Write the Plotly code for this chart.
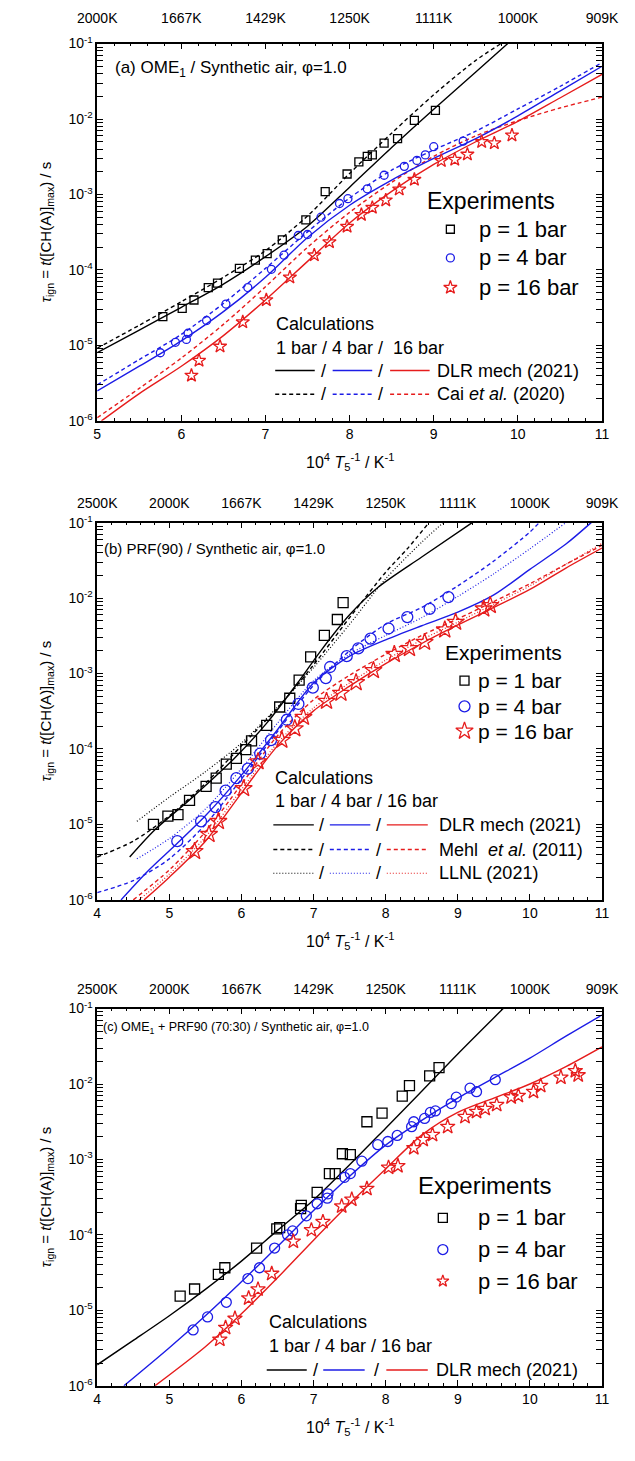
import plotly.graph_objects as go

W, H = 635, 1461
FONT = "Liberation Sans, Arial, sans-serif"
BLK, BLU, RED = "#000000", "#1c1ce6", "#e61c1c"
DASH, DOT = "4px,3px", "1px,2px"

# ---------------- Panel (a): OME1 ----------------
A_EXP1_X = [9.02, 8.77, 8.57, 8.41, 8.27, 8.21, 8.11, 7.97, 7.71, 7.48, 7.20, 7.02, 6.88, 6.69, 6.43, 6.32, 6.15, 6.01, 5.78]
A_EXP1_Y = [1.30e-2, 9.6e-3, 5.5e-3, 4.8e-3, 3.35e-3, 3.2e-3, 2.7e-3, 1.87e-3, 1.09e-3, 4.6e-4, 2.5e-4, 1.65e-4, 1.35e-4, 1.05e-4, 6.7e-5, 5.85e-5, 4.0e-5, 3.1e-5, 2.4e-5]
A_EXP4_X = [9.35, 9.00, 8.90, 8.80, 8.65, 8.41, 8.21, 7.98, 7.88, 7.66, 7.50, 7.39, 7.22, 7.07, 6.79, 6.53, 6.30, 6.08, 6.06, 5.93, 5.75]
A_EXP4_Y = [5.1e-3, 4.3e-3, 3.35e-3, 2.83e-3, 2.36e-3, 1.8e-3, 1.19e-3, 8.8e-4, 7.6e-4, 5.0e-4, 2.95e-4, 2.86e-4, 1.57e-4, 1.02e-4, 5.85e-5, 3.53e-5, 2.14e-5, 1.45e-5, 1.2e-5, 1.1e-5, 8e-6]
A_EXP16_X = [9.93, 9.72, 9.57, 9.40, 9.25, 9.09, 8.77, 8.59, 8.43, 8.27, 8.14, 7.97, 7.76, 7.58, 7.29, 7.01, 6.73, 6.46, 6.21, 6.12]
A_EXP16_Y = [6.1e-3, 4.8e-3, 5.0e-3, 3.4e-3, 2.9e-3, 2.8e-3, 1.58e-3, 1.17e-3, 8.4e-4, 6.7e-4, 5.4e-4, 3.76e-4, 2.34e-4, 1.57e-4, 8.0e-5, 4.0e-5, 2.04e-5, 9.7e-6, 6.3e-6, 4.0e-6]

A_DLR1_X = [5, 5.5, 6, 6.5, 7, 7.5, 8, 8.5, 9, 9.5, 9.88]
A_DLR1_Y = [8e-6, 1.6e-5, 3.2e-5, 6.5e-5, 1.5e-4, 3.8e-4, 1.25e-3, 4.2e-3, 1.35e-2, 4.2e-2, 1e-1]
A_CAI1_X = [5, 5.5, 6, 6.5, 7, 7.5, 8, 8.5, 9, 9.5, 9.80]
A_CAI1_Y = [9.2e-6, 1.85e-5, 3.8e-5, 8e-5, 1.8e-4, 5.2e-4, 1.9e-3, 6.5e-3, 2.1e-2, 6e-2, 1e-1]
A_DLR4_X = [5, 5.5, 6, 6.5, 7, 7.5, 8, 8.5, 9, 9.5, 10, 10.5, 11]
A_DLR4_Y = [2.5e-6, 5.3e-6, 1.15e-5, 2.8e-5, 8e-5, 2.7e-4, 7.2e-4, 1.55e-3, 3e-3, 5.5e-3, 1.1e-2, 2.35e-2, 5e-2]
A_CAI4_X = [5, 5.5, 6, 6.5, 7, 7.5, 8, 8.5, 9, 9.5, 10, 10.5, 11]
A_CAI4_Y = [3e-6, 6.5e-6, 1.4e-5, 3.6e-5, 1.05e-4, 3.2e-4, 9e-4, 2.1e-3, 3.9e-3, 6.9e-3, 1.36e-2, 2.7e-2, 5.6e-2]
A_DLR16_X = [5.05, 5.5, 6, 6.5, 7, 7.5, 8, 8.5, 9, 9.5, 10, 10.5, 11]
A_DLR16_Y = [1e-6, 2.3e-6, 5.3e-6, 1.35e-5, 4e-5, 1.3e-4, 4.2e-4, 1.1e-3, 2.5e-3, 5e-3, 9.3e-3, 1.9e-2, 3.9e-2]
A_CAI16_X = [5, 5.5, 6, 6.5, 7, 7.5, 8, 8.5, 9, 9.5, 10, 10.5, 11]
A_CAI16_Y = [1.1e-6, 2.7e-6, 6.8e-6, 1.9e-5, 6e-5, 2.0e-4, 5.8e-4, 1.45e-3, 3.2e-3, 6e-3, 9.5e-3, 1.4e-2, 1.95e-2]

# ---------------- Panel (b): PRF(90) ----------------
B_EXP1_X = [7.41, 7.33, 7.15, 6.96, 6.80, 6.67, 6.53, 6.35, 6.14, 6.06, 5.93, 5.79, 5.65, 5.51, 5.28, 5.12, 4.98, 4.78]
B_EXP1_Y = [8.7e-3, 5.2e-3, 3.2e-3, 1.66e-3, 8.2e-4, 4.7e-4, 3.6e-4, 2.06e-4, 1.28e-4, 9.8e-5, 7.5e-5, 6.3e-5, 4.1e-5, 3.2e-5, 2.09e-5, 1.35e-5, 1.29e-5, 1.0e-5]
B_EXP4_X = [8.87, 8.61, 8.30, 8.04, 7.79, 7.62, 7.46, 7.23, 7.17, 6.99, 6.79, 6.63, 6.41, 6.26, 6.09, 5.93, 5.78, 5.64, 5.44, 5.11]
B_EXP4_Y = [1.03e-2, 7.2e-3, 5.6e-3, 3.95e-3, 2.9e-3, 2.15e-3, 1.7e-3, 1.22e-3, 8.7e-4, 6.5e-4, 3.95e-4, 2.44e-4, 1.31e-4, 8.7e-5, 5.5e-5, 4.1e-5, 2.8e-5, 1.7e-5, 1.1e-5, 6.0e-6]
B_EXP16_X = [9.45, 9.36, 8.97, 8.82, 8.54, 8.33, 8.12, 7.83, 7.59, 7.38, 7.18, 6.86, 6.74, 6.56, 6.23, 6.03, 5.68, 5.55, 5.35]
B_EXP16_Y = [8.0e-3, 7.2e-3, 4.8e-3, 3.8e-3, 2.6e-3, 2.15e-3, 1.8e-3, 1.1e-3, 7.6e-4, 5.5e-4, 4.3e-4, 2.64e-4, 1.86e-4, 1.31e-4, 6.8e-5, 3.0e-5, 1.1e-5, 7.4e-6, 4.4e-6]

B_DLR1_X = [4.45, 4.8, 5.3, 5.9, 6.35, 6.8, 7.1, 7.5, 7.9, 8.5, 9.2]
B_DLR1_Y = [3.7e-6, 8.5e-6, 2.2e-5, 7.5e-5, 2.2e-4, 8e-4, 2e-3, 6e-3, 1.4e-2, 3.5e-2, 1e-1]
B_MEHL1_X = [4, 4.5, 5, 5.5, 6, 6.5, 7, 7.5, 8, 8.3, 8.6]
B_MEHL1_Y = [3.7e-6, 6e-6, 1.3e-5, 3.5e-5, 1.1e-4, 3.5e-4, 1.3e-3, 5.5e-3, 2.2e-2, 4.5e-2, 1e-1]
B_LLNL1_X = [4.55, 5, 5.5, 6, 6.5, 7, 7.5, 8, 8.5, 8.8]
B_LLNL1_Y = [1.1e-5, 2.3e-5, 5e-5, 1.2e-4, 3.6e-4, 1.2e-3, 4.5e-3, 1.8e-2, 5.5e-2, 1e-1]
B_DLR4_X = [4.33, 4.7, 5.1, 5.5, 6, 6.5, 7, 7.5, 8, 8.5, 9, 9.5, 10, 10.5, 10.85]
B_DLR4_Y = [1e-6, 2.4e-6, 5.5e-6, 1.3e-5, 4.5e-5, 1.8e-4, 7.5e-4, 1.7e-3, 2.8e-3, 4.3e-3, 6.5e-3, 1.1e-2, 2.4e-2, 5.2e-2, 1e-1]
B_MEHL4_X = [4, 4.5, 5, 5.5, 6, 6.5, 7, 7.5, 8, 8.5, 9, 9.5, 10, 10.13]
B_MEHL4_Y = [1.25e-6, 1.8e-6, 3.5e-6, 1.0e-5, 4e-5, 1.7e-4, 7e-4, 2e-3, 4.5e-3, 7.5e-3, 1.45e-2, 3.1e-2, 7.5e-2, 1e-1]
B_LLNL4_X = [4.55, 5, 5.5, 6, 6.5, 7, 7.5, 8, 8.5, 9, 9.5, 10, 10.5]
B_LLNL4_Y = [3.5e-6, 6.5e-6, 1.6e-5, 5.5e-5, 2.2e-4, 8e-4, 1.8e-3, 3.2e-3, 5.5e-3, 1.05e-2, 2.1e-2, 4.5e-2, 1e-1]
B_DLR16_X = [4.65, 5, 5.5, 6, 6.5, 7, 7.5, 8, 8.5, 9, 9.5, 10, 10.5, 11]
B_DLR16_Y = [1e-6, 2.0e-6, 6e-6, 2.6e-5, 1.1e-4, 3.2e-4, 6.8e-4, 1.35e-3, 2.5e-3, 4.4e-3, 7.5e-3, 1.3e-2, 2.5e-2, 4.6e-2]
B_MEHL16_X = [4.5, 5, 5.5, 6, 6.5, 7, 7.5, 8, 8.5, 9, 9.5, 10, 10.5, 11]
B_MEHL16_Y = [1e-6, 2.5e-6, 8e-6, 3.4e-5, 1.5e-4, 4.5e-4, 9.5e-4, 1.8e-3, 3.2e-3, 5.3e-3, 9e-3, 1.55e-2, 2.8e-2, 5e-2]
B_LLNL16_X = [4.58, 5, 5.5, 6, 6.5, 7, 7.5, 8, 8.5, 9, 9.5, 10, 10.5, 11]
B_LLNL16_Y = [1e-6, 2.2e-6, 6.8e-6, 2.9e-5, 1.2e-4, 3.5e-4, 7.5e-4, 1.5e-3, 2.8e-3, 4.8e-3, 8.3e-3, 1.45e-2, 2.8e-2, 5.3e-2]

# ---------------- Panel (c): OME1 + PRF90 (70:30) ----------------
C_EXP1_X = [8.74, 8.61, 8.33, 8.23, 7.95, 7.74, 7.51, 7.40, 7.30, 7.22, 7.05, 6.83, 6.82, 6.53, 6.49, 6.21, 5.77, 5.68, 5.35, 5.15]
C_EXP1_Y = [1.65e-2, 1.28e-2, 9.5e-3, 6.9e-3, 4.1e-3, 3.16e-3, 1.16e-3, 1.19e-3, 6.5e-4, 6.5e-4, 3.67e-4, 2.46e-4, 2.23e-4, 1.25e-4, 1.2e-4, 6.7e-5, 3.67e-5, 3.0e-5, 1.92e-5, 1.54e-5]
C_EXP4_X = [9.52, 9.26, 9.17, 8.98, 8.91, 8.69, 8.62, 8.54, 8.39, 8.36, 8.16, 8.03, 7.89, 7.67, 7.51, 7.43, 7.20, 7.19, 7.05, 6.90, 6.71, 6.64, 6.46, 6.25, 6.09, 5.79, 5.53, 5.33]
C_EXP4_Y = [1.14e-2, 7.9e-3, 8.8e-3, 6.7e-3, 5.5e-3, 4.4e-3, 4.2e-3, 3.5e-3, 3.16e-3, 2.72e-3, 2.08e-3, 1.73e-3, 1.57e-3, 9.5e-4, 6.5e-4, 5.8e-4, 3.5e-4, 3.07e-4, 2.59e-4, 1.79e-4, 1.13e-4, 1.0e-4, 6.7e-5, 3.67e-5, 2.64e-5, 1.28e-5, 8.2e-6, 5.5e-6]
C_EXP16_X = [10.63, 10.67, 10.43, 10.15, 10.05, 9.84, 9.74, 9.54, 9.38, 9.26, 9.10, 8.86, 8.65, 8.52, 8.39, 8.17, 8.04, 7.74, 7.53, 7.39, 7.13, 6.97, 6.72, 6.42, 6.23, 6.10, 5.91, 5.78, 5.70]
C_EXP16_Y = [1.49e-2, 1.31e-2, 1.22e-2, 9.5e-3, 7.9e-3, 7.0e-3, 6.7e-3, 5.3e-3, 4.7e-3, 4.3e-3, 3.67e-3, 2.72e-3, 2.12e-3, 1.82e-3, 1.42e-3, 8.2e-4, 7.8e-4, 4.1e-4, 2.95e-4, 2.4e-4, 1.49e-4, 1.16e-4, 8.2e-5, 3.07e-5, 1.9e-5, 1.45e-5, 7.8e-6, 5.9e-6, 4.1e-6]

C_DLR1_X = [4, 4.5, 5, 5.5, 6, 6.5, 7, 7.5, 8, 8.5, 9, 9.63]
C_DLR1_Y = [1.9e-6, 4e-6, 8.5e-6, 1.9e-5, 4.5e-5, 1.15e-4, 2.9e-4, 8.5e-4, 2.6e-3, 8e-3, 2.5e-2, 1e-1]
C_DLR4_X = [4.37, 5, 5.5, 6, 6.5, 7, 7.5, 8, 8.5, 9, 9.5, 10, 10.5, 11]
C_DLR4_Y = [1e-6, 3.2e-6, 8.5e-6, 2.4e-5, 7e-5, 2.1e-4, 6e-4, 1.55e-3, 3.3e-3, 6.5e-3, 1.2e-2, 2.2e-2, 4.3e-2, 8.2e-2]
C_DLR16_X = [4.8, 5.5, 6, 6.5, 7, 7.5, 8, 8.5, 9, 9.5, 10, 10.5, 11]
C_DLR16_Y = [1e-6, 3.3e-6, 9e-6, 2.7e-5, 8.5e-5, 2.6e-4, 7.5e-4, 2.1e-3, 4.2e-3, 6.5e-3, 1.0e-2, 1.7e-2, 3.1e-2]

# ---------------- Axis ticks / labels ----------------
X_TICKS_A = [5, 6, 7, 8, 9, 10, 11]
X_TICKS_BC = [4, 5, 6, 7, 8, 9, 10, 11]
TOP_LABELS_A = ["2000K", "1667K", "1429K", "1250K", "1111K", "1000K", "909K"]
TOP_LABELS_BC = ["2500K", "2000K", "1667K", "1429K", "1250K", "1111K", "1000K", "909K"]
Y_TICKS = [1e-6, 1e-5, 1e-4, 1e-3, 1e-2, 1e-1]
Y_LABELS = ["10<sup>-6</sup>", "10<sup>-5</sup>", "10<sup>-4</sup>", "10<sup>-3</sup>", "10<sup>-2</sup>", "10<sup>-1</sup>"]

Y_TITLE = "<i>τ</i><sub>ign</sub> = <i>t</i>([CH(A)]<sub>max</sub>) / s"
X_TITLE = "10<sup>4</sup> <i>T</i><sub>5</sub><sup>-1</sup> / K<sup>-1</sup>"

# ---------------- Layout geometry (pixels) ----------------
PLOT_L, PLOT_R = 82, 618
PANELS = [(34, 416), (519, 901), (1011, 1393)]


def xp(px):
    return px / W


def yp(py):
    return 1 - py / H


fig = go.Figure()


def line(x, y, color, dash, xa, ya, width=1.4):
    fig.add_trace(go.Scatter(x=x, y=y, mode="lines", xaxis=xa, yaxis=ya,
                             line=dict(color=color, width=width, dash=dash, shape="spline", smoothing=0.8),
                             showlegend=False, hoverinfo="skip"))


def pts(x, y, color, symbol, size, xa, ya):
    fig.add_trace(go.Scatter(x=x, y=y, mode="markers", xaxis=xa, yaxis=ya,
                             marker=dict(symbol=symbol, size=size, color=color,
                                         line=dict(color=color, width=1.3)),
                             showlegend=False, hoverinfo="skip"))


# panel a
line(A_CAI1_X, A_CAI1_Y, BLK, DASH, "x", "y")
line(A_CAI4_X, A_CAI4_Y, BLU, DASH, "x", "y")
line(A_CAI16_X, A_CAI16_Y, RED, DASH, "x", "y")
line(A_DLR1_X, A_DLR1_Y, BLK, "solid", "x", "y")
line(A_DLR4_X, A_DLR4_Y, BLU, "solid", "x", "y")
line(A_DLR16_X, A_DLR16_Y, RED, "solid", "x", "y")
pts(A_EXP1_X, A_EXP1_Y, BLK, "square-open", 8, "x", "y")
pts(A_EXP4_X, A_EXP4_Y, BLU, "circle-open", 8, "x", "y")
pts(A_EXP16_X, A_EXP16_Y, RED, "star-open", 10, "x", "y")

# panel b
line(B_MEHL1_X, B_MEHL1_Y, BLK, DASH, "x2", "y2")
line(B_MEHL4_X, B_MEHL4_Y, BLU, DASH, "x2", "y2")
line(B_MEHL16_X, B_MEHL16_Y, RED, DASH, "x2", "y2")
line(B_LLNL1_X, B_LLNL1_Y, BLK, DOT, "x2", "y2", 1.2)
line(B_LLNL4_X, B_LLNL4_Y, BLU, DOT, "x2", "y2", 1.2)
line(B_LLNL16_X, B_LLNL16_Y, RED, DOT, "x2", "y2", 1.2)
line(B_DLR1_X, B_DLR1_Y, BLK, "solid", "x2", "y2")
line(B_DLR4_X, B_DLR4_Y, BLU, "solid", "x2", "y2")
line(B_DLR16_X, B_DLR16_Y, RED, "solid", "x2", "y2")
pts(B_EXP1_X, B_EXP1_Y, BLK, "square-open", 10, "x2", "y2")
pts(B_EXP4_X, B_EXP4_Y, BLU, "circle-open", 11, "x2", "y2")
pts(B_EXP16_X, B_EXP16_Y, RED, "star-open", 13, "x2", "y2")

# panel c
line(C_DLR1_X, C_DLR1_Y, BLK, "solid", "x3", "y3")
line(C_DLR4_X, C_DLR4_Y, BLU, "solid", "x3", "y3")
line(C_DLR16_X, C_DLR16_Y, RED, "solid", "x3", "y3")
pts(C_EXP1_X, C_EXP1_Y, BLK, "square-open", 10, "x3", "y3")
pts(C_EXP4_X, C_EXP4_Y, BLU, "circle-open", 10, "x3", "y3")
pts(C_EXP16_X, C_EXP16_Y, RED, "star-open", 11, "x3", "y3")

# empty traces so that top axes are drawn
for xa, ya in (("x4", "y"), ("x5", "y2"), ("x6", "y3")):
    fig.add_trace(go.Scatter(x=[None], y=[None], xaxis=xa, yaxis=ya, showlegend=False, hoverinfo="skip"))

# ---------------- legends (drawn on a full-page pixel overlay) ----------------
annotations = []


def txt(text, x, y, size, xanchor="left", angle=0):
    annotations.append(dict(text=text, x=xp(x), y=yp(y), xref="paper", yref="paper",
                            xanchor=xanchor, yanchor="middle", showarrow=False, textangle=angle,
                            font=dict(family=FONT, size=size, color="black")))


def leg_marker(x, y, color, symbol, size):
    fig.add_trace(go.Scatter(x=[x], y=[y], mode="markers", xaxis="x7", yaxis="y7",
                             marker=dict(symbol=symbol, size=size, color=color,
                                         line=dict(color=color, width=1.3)),
                             showlegend=False, hoverinfo="skip"))


def leg_line(x0, x1, y, color, dash, width=1.4):
    fig.add_trace(go.Scatter(x=[x0, x1], y=[y, y], mode="lines", xaxis="x7", yaxis="y7",
                             line=dict(color=color, width=width, dash=dash),
                             showlegend=False, hoverinfo="skip"))


def calc_row(y, dash, label, xs, size, width=1.4):
    (b0, b1, s1, u0, u1, s2, r0, r1, tx) = xs
    leg_line(b0, b1, y, BLK, dash, width)
    leg_line(u0, u1, y, BLU, dash, width)
    leg_line(r0, r1, y, RED, dash, width)
    txt("/", s1, y, size, "center")
    txt("/", s2, y, size, "center")
    txt(label, tx, y, size)


# panel titles
txt("(a) OME<sub>1</sub> / Synthetic air, φ=1.0", 99, 60, 17)
txt("(b) PRF(90) / Synthetic air, φ=1.0", 87, 545, 15)
txt("(c) OME<sub>1</sub> + PRF90 (70:30) / Synthetic air, φ=1.0", 86, 1031, 12.5)

# axis titles
for (top, bot) in PANELS:
    txt(Y_TITLE, 28, (top + bot) / 2, 15, "center", -90)
    txt(X_TITLE, (PLOT_L + PLOT_R) / 2, bot + 42, 16, "center")

# legend (a)
txt("Experiments", 430, 193, 23)
leg_marker(457, 222, BLK, "square-open", 8)
leg_marker(457, 251, BLU, "circle-open", 8)
leg_marker(457, 281, RED, "star-open", 10)
txt("p = 1 bar", 485, 222, 22)
txt("p = 4 bar", 485, 251, 22)
txt("p = 16 bar", 485, 281, 22)
txt("Calculations", 270, 318, 18)
txt("1 bar / 4 bar /  16 bar", 270, 342, 18)
XS_A = (271, 313, 322.5, 332, 374, 382.5, 393, 435, 441)
calc_row(365, "solid", "DLR mech (2021)", XS_A, 18)
calc_row(389, DASH, "Cai <i>et al.</i> (2020)", XS_A, 18)

# legend (b)
txt("Experiments", 449, 651, 21)
leg_marker(472, 679, BLK, "square-open", 9)
leg_marker(472, 705, BLU, "circle-open", 11)
leg_marker(472, 730, RED, "star-open", 13)
txt("p = 1 bar", 484, 679, 21)
txt("p = 4 bar", 484, 705, 21)
txt("p = 16 bar", 484, 730, 21)
txt("Calculations", 269, 778, 18)
txt("1 bar / 4 bar / 16 bar", 269, 801, 18)
XS_B = (269, 312, 320, 329, 372, 380.5, 389.5, 433, 443)
calc_row(825, "solid", "DLR mech (2021)", XS_B, 18)
calc_row(850, DASH, "Mehl  <i>et al.</i> (2011)", XS_B, 18)
calc_row(874, DOT, "LLNL (2021)", XS_B, 18, 1.2)

# legend (c)
txt("Experiments", 421, 1190, 24)
leg_marker(449, 1223, BLK, "square-open", 9)
leg_marker(449, 1255, BLU, "circle-open", 10)
leg_marker(449, 1287, RED, "star-open", 9)
txt("p = 1 bar", 484, 1223, 22)
txt("p = 4 bar", 484, 1255, 22)
txt("p = 16 bar", 484, 1287, 22)
txt("Calculations", 262, 1328, 18)
txt("1 bar / 4 bar / 16 bar", 262, 1353, 18)
XS_C = (262, 304.5, 314, 322, 366, 378.5, 389, 433, 440)
calc_row(1377, "solid", "DLR mech (2021)", XS_C, 18)

# ---------------- axes ----------------
tickfont = dict(family=FONT, size=14, color="black")
minor_log = [k * 10.0 ** e for e in range(-6, -1) for k in range(2, 10)]


def xaxis_cfg(ticks, rng, ydom_anchor):
    return dict(domain=[xp(PLOT_L), xp(PLOT_R)], range=rng, anchor=ydom_anchor,
                tickmode="array", tickvals=ticks, ticktext=[str(t) for t in ticks],
                showline=True, linecolor="black", linewidth=1.5, mirror=False,
                ticks="inside", ticklen=6, tickwidth=1.2, tickcolor="black",
                minor=dict(ticks="inside", ticklen=3, tickwidth=1, tickcolor="black",
                           tickmode="linear", tick0=rng[0], dtick=0.2, showgrid=False),
                showgrid=False, zeroline=False, tickfont=tickfont, fixedrange=True)


def top_cfg(ticks, labels, rng, over, anchor, standoff):
    return dict(overlaying=over, side="top", anchor=anchor, range=rng,
                tickmode="array", tickvals=ticks, ticktext=labels,
                showline=True, linecolor="black", linewidth=1.5,
                ticks="inside", ticklen=6, tickwidth=1.2, tickcolor="black",
                ticklabelstandoff=standoff,
                minor=dict(ticks="inside", ticklen=3, tickwidth=1, tickcolor="black",
                           tickmode="linear", tick0=rng[0], dtick=0.2, showgrid=False),
                showgrid=False, zeroline=False, tickfont=tickfont, fixedrange=True)


def yaxis_cfg(top, bot, anchor):
    return dict(domain=[yp(bot), yp(top)], type="log", range=[-6, -1], anchor=anchor,
                tickmode="array", tickvals=Y_TICKS, ticktext=Y_LABELS,
                showline=True, linecolor="black", linewidth=1.5, mirror="allticks",
                ticks="inside", ticklen=6, tickwidth=1.2, tickcolor="black",
                minor=dict(ticks="inside", ticklen=3, tickwidth=1, tickcolor="black",
                           tickmode="array", tickvals=minor_log, showgrid=False),
                showgrid=False, zeroline=False, tickfont=tickfont, fixedrange=True)


fig.update_layout(
    width=W, height=H, margin=dict(l=0, r=0, t=0, b=0),
    paper_bgcolor="white", plot_bgcolor="rgba(0,0,0,0)", showlegend=False,
    font=dict(family=FONT, color="black"),
    xaxis=xaxis_cfg(X_TICKS_A, [5, 11], "y"),
    yaxis=yaxis_cfg(*PANELS[0], "x"),
    xaxis2=xaxis_cfg(X_TICKS_BC, [4, 11], "y2"),
    yaxis2=yaxis_cfg(*PANELS[1], "x2"),
    xaxis3=xaxis_cfg(X_TICKS_BC, [4, 11], "y3"),
    yaxis3=yaxis_cfg(*PANELS[2], "x3"),
    xaxis4=top_cfg(X_TICKS_A, TOP_LABELS_A, [5, 11], "x", "y", 13),
    xaxis5=top_cfg(X_TICKS_BC, TOP_LABELS_BC, [4, 11], "x2", "y2", 7),
    xaxis6=top_cfg(X_TICKS_BC, TOP_LABELS_BC, [4, 11], "x3", "y3", 7),
    xaxis7=dict(domain=[0, 1], range=[0, W], visible=False, anchor="y7", fixedrange=True),
    yaxis7=dict(domain=[0, 1], range=[H, 0], visible=False, anchor="x7", fixedrange=True),
    annotations=annotations,
)

fig.write_html("out.html")
